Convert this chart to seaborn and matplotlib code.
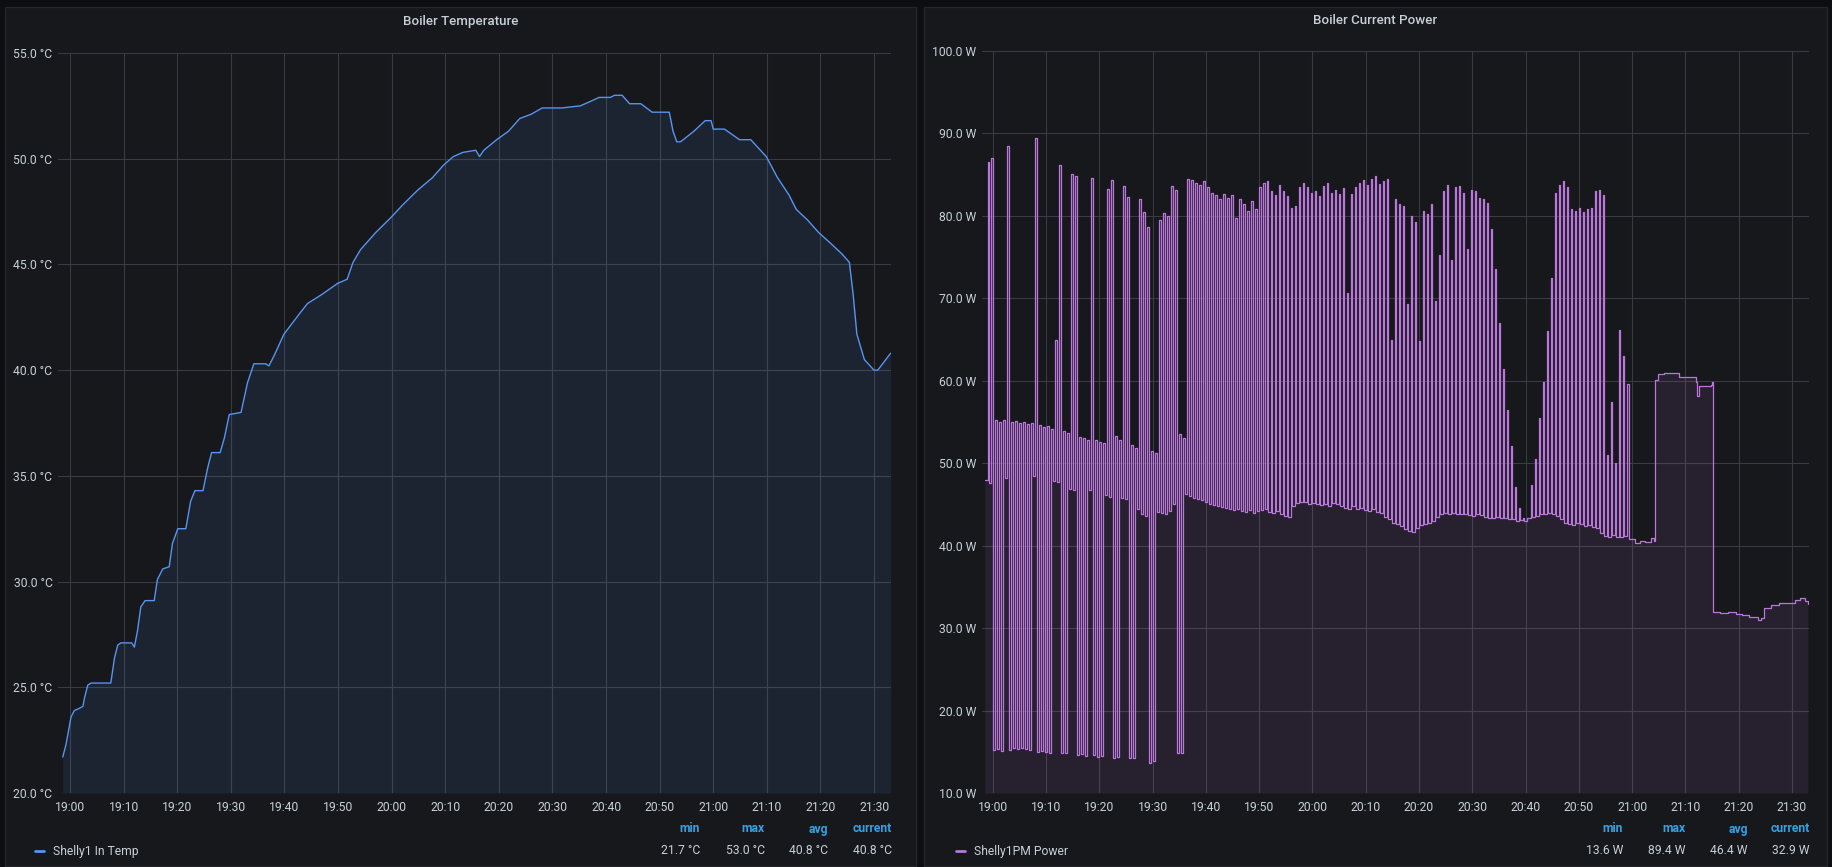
import pandas as pd
import seaborn as sns
import matplotlib.pyplot as plt
import matplotlib.dates as mdates
from matplotlib.patches import Rectangle

DAY = "2021-06-01 "

# --- Boiler temperature readings (time, °C) ---
temp_times = [
    "18:58:38", "18:59:15", "19:00:11", "19:00:48", "19:01:42", "19:02:24", "19:02:42", "19:03:18",
    "19:03:54", "19:07:36", "19:08:18", "19:08:54", "19:09:30", "19:11:30", "19:12:00", "19:12:36",
    "19:13:12", "19:14:00", "19:15:42", "19:16:18", "19:17:18", "19:18:30", "19:19:06", "19:20:06",
    "19:21:36", "19:22:30", "19:23:18", "19:24:48", "19:25:42", "19:26:24", "19:28:00", "19:28:48",
    "19:29:42", "19:31:54", "19:33:06", "19:34:18", "19:36:30", "19:37:06", "19:38:06", "19:39:54",
    "19:42:54", "19:44:18", "19:47:06", "19:49:54", "19:51:42", "19:52:48", "19:54:12", "19:57:00",
    "19:59:48", "20:02:00", "20:04:48", "20:07:36", "20:09:42", "20:11:30", "20:13:18", "20:15:42",
    "20:16:24", "20:17:12", "20:19:36", "20:21:48", "20:23:54", "20:26:00", "20:28:06", "20:31:42",
    "20:35:12", "20:37:00", "20:38:42", "20:40:48", "20:41:36", "20:43:00", "20:44:24", "20:46:30",
    "20:48:36", "20:51:48", "20:52:30", "20:53:12", "20:53:54", "20:56:24", "20:58:30", "20:59:36",
    "21:00:00", "21:02:06", "21:04:54", "21:07:00", "21:09:54", "21:12:00", "21:14:06", "21:15:30",
    "21:17:36", "21:19:42", "21:21:54", "21:24:00", "21:25:24", "21:26:06", "21:26:48", "21:28:12",
    "21:30:00", "21:30:42", "21:33:06",
]
temp_values = [
    21.7, 22.3, 23.6, 23.9, 24.0, 24.1, 24.5, 25.1,
    25.2, 25.2, 26.4, 27.0, 27.1, 27.1, 26.9, 27.7,
    28.8, 29.1, 29.1, 30.1, 30.6, 30.7, 31.8, 32.5,
    32.5, 33.8, 34.3, 34.3, 35.4, 36.1, 36.1, 36.8,
    37.9, 38.0, 39.4, 40.3, 40.3, 40.2, 40.7, 41.7,
    42.7, 43.15, 43.6, 44.1, 44.3, 45.1, 45.7, 46.5,
    47.2, 47.8, 48.5, 49.1, 49.7, 50.1, 50.3, 50.4,
    50.1, 50.4, 50.9, 51.3, 51.9, 52.1, 52.4, 52.4,
    52.5, 52.7, 52.9, 52.9, 53.0, 53.0, 52.6, 52.6,
    52.2, 52.2, 51.3, 50.8, 50.8, 51.3, 51.8, 51.8,
    51.4, 51.4, 50.9, 50.9, 50.1, 49.1, 48.3, 47.6,
    47.1, 46.5, 46.0, 45.5, 45.1, 43.6, 41.7, 40.5,
    40.0, 40.0, 40.8,
]

# --- Boiler power: switching pulses, one low/high pair every 45 s ---
pulse_start = "18:58:30"
pulse_low = [
    48.0, 47.6, 15.2, 15.3, 15.1, 48.2, 15.2, 15.4, 15.3, 15.5,
    15.3, 15.2, 48.4, 15.0, 15.1, 15.0, 14.9, 47.8, 47.7, 14.8,
    14.9, 46.9, 46.8, 14.6, 14.7, 14.5, 46.7, 14.6, 14.4, 14.5,
    46.2, 45.9, 14.3, 14.4, 45.8, 45.6, 14.2, 14.3, 44.5, 43.8,
    43.6, 13.6, 13.9, 44.1, 44.0, 43.9, 44.2, 45.0, 14.8, 14.9,
    46.3, 46.0, 45.8, 45.7, 45.5, 45.3, 45.0, 44.9, 44.8, 44.7,
    44.6, 44.5, 44.3, 44.4, 44.2, 44.1, 44.3, 44.0, 44.2, 44.3,
    44.4, 44.1, 44.0, 44.2, 43.8, 43.6, 43.5, 44.8, 45.2, 45.3,
    45.3, 45.0, 45.2, 45.1, 44.9, 45.0, 44.8, 45.2, 45.0, 44.8,
    44.6, 44.5, 44.8, 44.4, 44.6, 44.3, 44.2, 44.5, 44.1, 44.0,
    43.5, 43.2, 42.8, 42.6, 42.4, 42.0, 41.8, 41.6, 42.2, 42.5,
    42.6, 42.8, 43.0, 43.5, 43.8, 44.0, 43.8, 44.0, 43.9, 43.8,
    43.8, 43.7, 43.6, 43.8, 43.7, 43.5, 43.4, 43.3, 43.5, 43.4,
    43.3, 43.2, 43.2, 43.0, 43.1, 43.0, 43.4, 43.5, 43.6, 43.8,
    43.9, 44.0, 43.8, 43.6, 43.2, 42.8, 42.6, 42.5, 42.7, 42.6,
    42.4, 42.5, 42.3, 42.2, 41.5, 41.2, 41.0, 41.3, 41.1, 41.0,
    41.2,
]
pulse_high = [
    86.5, 87.0, 55.2, 55.0, 55.3, 88.5, 55.0, 55.1, 54.9, 55.0,
    54.8, 54.9, 89.4, 54.6, 54.4, 54.5, 54.2, 65.0, 86.2, 53.9,
    53.7, 85.1, 84.8, 53.2, 53.0, 52.8, 84.6, 52.8, 52.6, 52.5,
    83.3, 84.4, 53.3, 52.8, 83.6, 82.3, 52.2, 51.8, 82.0, 80.5,
    78.7, 51.5, 51.3, 79.5, 80.3, 80.0, 83.6, 83.2, 53.5, 53.0,
    84.5, 84.4, 84.0, 83.8, 84.2, 83.5, 82.8, 82.5, 82.0, 82.6,
    82.2, 82.5, 79.8, 82.0, 81.5, 80.6, 81.8, 80.8, 83.5, 84.0,
    84.2, 83.0, 82.5, 83.8, 83.0, 82.4, 81.0, 81.2, 83.5, 84.0,
    83.5, 82.8, 83.0, 82.4, 83.6, 84.0, 82.8, 83.2, 82.6, 83.4,
    70.7, 82.6, 83.5, 84.0, 84.3, 83.8, 84.5, 84.8, 83.9, 84.2,
    84.5, 65.0, 82.0, 81.5, 81.2, 69.3, 80.0, 79.3, 64.8, 80.6,
    80.2, 81.4, 69.7, 75.2, 83.0, 83.8, 74.7, 83.5, 83.6, 82.8,
    76.0, 83.2, 83.0, 82.2, 82.0, 81.6, 78.4, 73.5, 67.0, 61.4,
    56.5, 52.1, 47.1, 44.6, 43.4, 43.3, 47.4, 50.5, 55.5, 59.8,
    66.0, 72.5, 82.8, 83.8, 84.2, 83.5, 80.8, 80.6, 81.0, 80.5,
    80.8, 81.0, 83.0, 83.2, 82.5, 51.0, 57.4, 50.0, 66.2, 63.0,
    59.6,
]
# after the pulsing stops
tail_times = [
    "20:59:30", "21:00:30", "21:01:30", "21:02:30", "21:03:30", "21:04:05", "21:04:15", "21:04:50",
    "21:06:00", "21:07:30", "21:08:40", "21:08:50", "21:11:40", "21:12:00", "21:12:10", "21:12:30",
    "21:14:50", "21:15:00", "21:15:10", "21:16:30", "21:18:00", "21:19:30", "21:20:40", "21:22:00",
    "21:23:40", "21:24:10", "21:24:50", "21:26:00", "21:27:30", "21:29:00", "21:30:30", "21:31:30",
    "21:32:30", "21:33:00",
]
tail_values = [
    40.8, 40.3, 40.6, 40.4, 40.9, 40.6, 60.1, 60.8,
    61.0, 60.9, 60.9, 60.4, 60.4, 59.8, 58.1, 59.4,
    59.5, 59.9, 32.0, 31.8, 32.0, 31.7, 31.6, 31.3,
    31.0, 31.2, 32.4, 32.8, 33.0, 33.1, 33.4, 33.6,
    33.3, 32.9,
]

stat_names = ["min", "max", "avg", "current"]
temp_stats = ["21.7 °C", "53.0 °C", "40.8 °C", "40.8 °C"]
power_stats = ["13.6 W", "89.4 W", "46.4 W", "32.9 W"]

# build frames
temp = pd.DataFrame({"time": pd.to_datetime([DAY + t for t in temp_times]), "value": temp_values})

starts = pd.date_range(DAY + pulse_start, periods=len(pulse_low), freq="45s")
p_times, p_vals = [], []
for t0, lo, hi in zip(starts, pulse_low, pulse_high):
    # low for ~30 s, then a short high burst
    p_times += [t0, t0 + pd.Timedelta(seconds=30)]
    p_vals += [lo, hi]
p_times += list(pd.to_datetime([DAY + t for t in tail_times]))
p_vals += tail_values
power = pd.DataFrame({"time": p_times, "value": p_vals})

# --- style ---
W, H = 1833, 867
PAGE = "#0d0e11"
PANEL = "#17181c"
GRID = "#393b41"
TEXT = "#c7d0d9"
BLUE = "#5794F2"
PURPLE = "#B877D9"
HEAD = "#33a2e5"

sns.set_theme(style="dark")
plt.rcParams["font.family"] = ["Roboto", "DejaVu Sans"]

fig = plt.figure(figsize=(W / 100, H / 100), dpi=100, facecolor=PAGE)


def fx(px):
    return px / W


def fy(py):
    return 1 - py / H


for x0, x1 in [(5, 916), (924, 1827)]:
    fig.add_artist(Rectangle((fx(x0), fy(866)), fx(x1 - x0), (866 - 7) / H,
                             transform=fig.transFigure, facecolor=PANEL,
                             edgecolor="#24262b", lw=1, zorder=0))

ax1 = fig.add_axes([fx(58), fy(793), fx(891 - 58), (793 - 53) / H])
ax2 = fig.add_axes([fx(982), fy(793), fx(1809 - 982), (793 - 51) / H])


def style(ax, lo, hi, step, unit, xmin, xmax):
    ax.set_facecolor(PANEL)
    ax.set_ylim(lo, hi)
    ax.set_yticks(range(lo, hi + 1, step))
    ax.set_yticklabels([f"{v:.1f} {unit}" for v in range(lo, hi + 1, step)])
    ax.set_xlim(pd.Timestamp(DAY + xmin), pd.Timestamp(DAY + xmax))
    ax.xaxis.set_major_locator(mdates.MinuteLocator(byminute=range(0, 60, 10)))
    ax.xaxis.set_major_formatter(mdates.DateFormatter("%H:%M"))
    ax.grid(True, color=GRID, lw=0.8)
    ax.tick_params(length=0, labelsize=8.7, colors=TEXT, pad=4)
    ax.tick_params(axis="x", pad=6)
    for s in ax.spines.values():
        s.set_visible(False)
    ax.set_xlabel("")
    ax.set_ylabel("")


# temperature
ax1.fill_between(temp["time"], temp["value"], 20, color=BLUE, alpha=0.1, lw=0)
sns.lineplot(data=temp, x="time", y="value", ax=ax1, color=BLUE, lw=1.0,
             estimator=None, sort=False)
style(ax1, 20, 55, 5, "°C", "18:57:45", "21:33:10")

# power
ax2.fill_between(power["time"], power["value"], 10, step="post", color=PURPLE, alpha=0.1, lw=0)
sns.lineplot(data=power, x="time", y="value", ax=ax2, color=PURPLE, lw=0.9,
             estimator=None, sort=False, drawstyle="steps-post")
style(ax2, 10, 100, 10, "W", "18:57:58", "21:33:13")

# titles
fig.text(fx(461), fy(21), "Boiler Temperature", ha="center", va="center",
         color=TEXT, fontsize=9.6, fontweight="medium")
fig.text(fx(1375), fy(21), "Boiler Current Power", ha="center", va="center",
         color=TEXT, fontsize=9.6, fontweight="medium")

# legends with stats
legends = [
    (35, "Shelly1 In Temp", BLUE, [700, 765, 828, 892], temp_stats),
    (956, "Shelly1PM Power", PURPLE, [1623, 1686, 1748, 1810], power_stats),
]
for lx, name, col, xs, vals in legends:
    fig.add_artist(plt.Line2D([fx(lx), fx(lx + 9)], [fy(851), fy(851)],
                              transform=fig.transFigure, color=col, lw=2))
    fig.text(fx(lx + 18), fy(851), name, ha="left", va="center", color=TEXT, fontsize=8.7)
    for x, head, v in zip(xs, stat_names, vals):
        fig.text(fx(x), fy(829), head, ha="right", va="center", color=HEAD,
                 fontsize=8.7, fontweight="bold")
        fig.text(fx(x), fy(851), v, ha="right", va="center", color=TEXT, fontsize=8.7)

fig.savefig("out.png", dpi=100, facecolor=PAGE)
